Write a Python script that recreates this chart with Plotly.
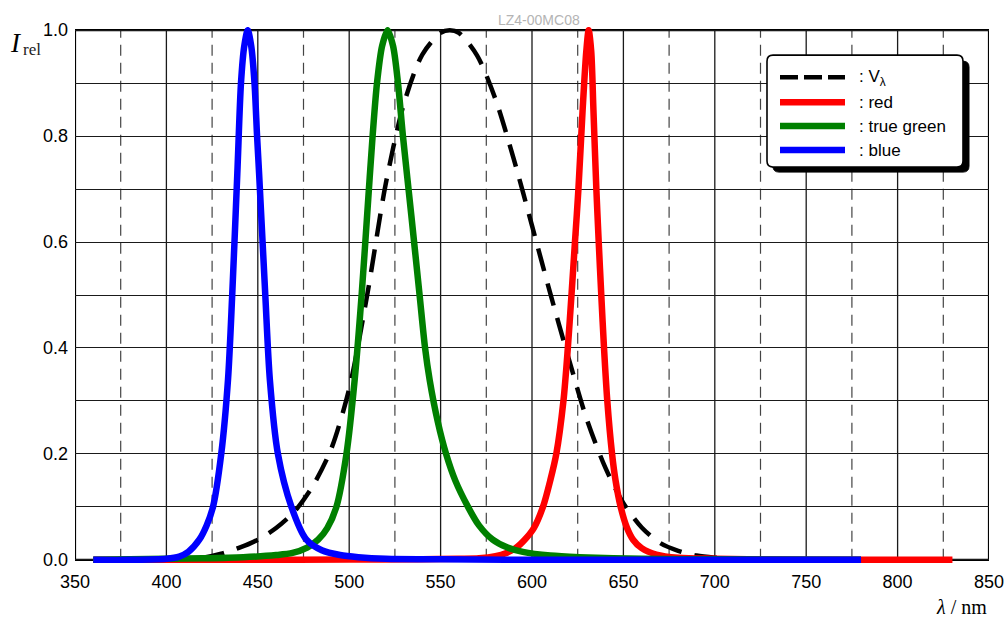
import plotly.graph_objects as go

# ---------------- data ----------------
v_x = [380, 390, 400, 410, 420, 430, 440, 450, 460, 470, 480, 490, 500, 510, 520,
       530, 540, 550, 555, 560, 570, 580, 590, 600, 610, 620, 630, 640, 650, 660,
       670, 680, 690, 700, 710, 720, 730, 740, 760, 780]
v_y = [0.0, 0.0001, 0.0004, 0.0012, 0.004, 0.0116, 0.023, 0.038, 0.06, 0.091, 0.139,
       0.208, 0.323, 0.503, 0.71, 0.862, 0.954, 0.995, 1.0, 0.995, 0.952, 0.87, 0.757,
       0.631, 0.503, 0.381, 0.265, 0.175, 0.107, 0.061, 0.032, 0.017, 0.008, 0.004,
       0.002, 0.001, 0.0005, 0.0002, 0.0001, 0.0]

red_x = [360, 450, 500, 540, 560, 571, 580, 586, 591, 596, 601, 606, 610, 613.3,
         617.2, 619.6, 621.6, 623.5, 625.4, 627.7, 629.7, 631, 632.4, 633.6, 635.2,
         636.5, 637.9, 639.4, 641.2, 643.8, 645.7, 648.5, 652, 655.3, 660, 668, 680,
         700, 750, 830]
red_y = [0.0, 0.0, 0.0005, 0.001, 0.002, 0.003, 0.007, 0.013, 0.022, 0.038, 0.06,
         0.1, 0.15, 0.2, 0.3, 0.4, 0.5, 0.6, 0.7, 0.85, 0.96, 1.0, 0.96, 0.85, 0.7,
         0.6, 0.5, 0.4, 0.3, 0.2, 0.15, 0.1, 0.06, 0.038, 0.022, 0.01, 0.004,
         0.002, 0.0, 0.0]

green_x = [360, 380, 400, 420, 442, 460, 469, 477, 483, 488, 493, 498.5, 503, 506.8,
           509.8, 512.8, 515.2, 518, 521, 524, 526.7, 529.4, 534, 538.5, 541.5, 544,
           548.5, 553, 558, 565, 571, 578.5, 586, 595, 610, 626, 660, 700, 780]
green_y = [0.0, 0.001, 0.002, 0.003, 0.005, 0.009, 0.013, 0.023, 0.038, 0.06, 0.1,
           0.2, 0.34, 0.5, 0.65, 0.8, 0.9, 0.97, 1.0, 0.97, 0.9, 0.8, 0.65, 0.5,
           0.4, 0.34, 0.26, 0.2, 0.15, 0.1, 0.065, 0.038, 0.024, 0.015, 0.008, 0.005,
           0.002, 0.001, 0.0]

blue_x = [360, 380, 400, 407, 412, 418, 422, 425.5, 430, 433.7, 436.0, 438.8, 440.8,
          442.6, 444.5, 446.4, 448.2, 449.6, 450.7, 454.1, 456.6, 461, 468.4, 476.6,
          485, 495, 505, 520, 550, 600, 780]
blue_y = [0.0, 0.0, 0.002, 0.006, 0.015, 0.038, 0.065, 0.1, 0.2, 0.34, 0.5, 0.73,
          0.9, 0.97, 1.0, 0.97, 0.9, 0.8, 0.73, 0.5, 0.34, 0.2, 0.1, 0.038, 0.018,
          0.009, 0.005, 0.002, 0.001, 0.0, 0.0]

series_names = [": V<sub>λ</sub>", ": red", ": true green", ": blue"]
series_colors = ["black", "#ff0000", "#008000", "#0000ff"]

x_tick_vals = list(range(350, 851, 50))
x_minor_vals = list(range(375, 826, 50))
y_tick_vals = [0.0, 0.2, 0.4, 0.6, 0.8, 1.0]
y_minor_vals = [0.1, 0.3, 0.5, 0.7, 0.9]

title_text = "LZ4-00MC08"

# ---------------- layout geometry (reference screen pixels) ----------------
W, H = 1008, 621
L, R = 75, 19
PW = W - L - R
Y0PX, Y1PX = 560.0, 30.0            # pixel rows of y=0 and y=1
PPU = Y0PX - Y1PX
PAD = 0.006                         # small padding so lines at 0 / 1 are not clipped
T = Y1PX - PAD * PPU
B = H - (Y0PX + PAD * PPU)
PH = H - T - B
BOTTOM_PX = H - B


def px_x(p):
    return (p - L) / PW


def px_y(p):
    return (BOTTOM_PX - p) / PH


fig = go.Figure()

traces = [(v_x, v_y), (red_x, red_y), (green_x, green_y), (blue_x, blue_y)]
for i, (xs, ys) in enumerate(traces):
    if i == 0:
        line = dict(color=series_colors[i], width=4.5, dash="23px,13px",
                    shape="spline", smoothing=0.8)
    else:
        line = dict(color=series_colors[i], width=6.5, shape="spline", smoothing=0.8)
    fig.add_trace(go.Scatter(x=xs, y=ys, mode="lines", line=line,
                             name=series_names[i], showlegend=False,
                             hoverinfo="skip"))

shapes = []
for xv in x_tick_vals[1:-1]:
    shapes.append(dict(type="line", xref="x", yref="y", x0=xv, x1=xv, y0=0, y1=1,
                       line=dict(color="#1a1a1a", width=1.3), layer="below"))
for xv in x_minor_vals:
    shapes.append(dict(type="line", xref="x", yref="y", x0=xv, x1=xv, y0=0, y1=1,
                       line=dict(color="#444444", width=1.2, dash="11px,7px"),
                       layer="below"))
shapes.append(dict(type="rect", xref="x", yref="y", x0=x_tick_vals[0],
                   x1=x_tick_vals[-1], y0=0, y1=1,
                   line=dict(color="black", width=2.2), layer="below"))


def rrect_path(x0, y0, x1, y1, r):
    def P(a, b):
        return f"{px_x(a):.5f},{px_y(b):.5f}"
    return (f"M{P(x0 + r, y0)} L{P(x1 - r, y0)} Q{P(x1, y0)} {P(x1, y0 + r)} "
            f"L{P(x1, y1 - r)} Q{P(x1, y1)} {P(x1 - r, y1)} L{P(x0 + r, y1)} "
            f"Q{P(x0, y1)} {P(x0, y1 - r)} L{P(x0, y0 + r)} Q{P(x0, y0)} {P(x0 + r, y0)} Z")


shapes.append(dict(type="path", xref="paper", yref="paper",
                   path=rrect_path(773, 61, 969, 172, 6),
                   fillcolor="black", line=dict(color="black", width=1), layer="above"))
shapes.append(dict(type="path", xref="paper", yref="paper",
                   path=rrect_path(767, 55, 963, 167, 6),
                   fillcolor="white", line=dict(color="black", width=1.6), layer="above"))

rows = [77, 102, 126, 150]
annotations = []
for i, ry in enumerate(rows):
    if i == 0:
        ln = dict(color=series_colors[i], width=4.5, dash="18px,6px")
    else:
        ln = dict(color=series_colors[i], width=6.5)
    shapes.append(dict(type="line", xref="paper", yref="paper",
                       x0=px_x(780), x1=px_x(845), y0=px_y(ry), y1=px_y(ry),
                       line=ln, layer="above"))
    annotations.append(dict(xref="paper", yref="paper", x=px_x(857), y=px_y(ry + 0.5),
                            xanchor="left", yanchor="middle", showarrow=False,
                            text=series_names[i],
                            font=dict(family="Liberation Sans, Arial", size=17,
                                      color="black")))

annotations.append(dict(xref="paper", yref="paper", x=px_x(16), y=px_y(42.5),
                        xanchor="center", yanchor="middle", showarrow=False,
                        text="<i>I</i>",
                        font=dict(family="Liberation Serif, Times New Roman", size=27,
                                  color="black")))
annotations.append(dict(xref="paper", yref="paper", x=px_x(21), y=px_y(49.5),
                        xanchor="left", yanchor="middle", showarrow=False,
                        text="rel",
                        font=dict(family="Liberation Serif, Times New Roman", size=17,
                                  color="#222222")))
annotations.append(dict(xref="paper", yref="paper", x=px_x(989), y=px_y(607),
                        xanchor="right", yanchor="middle", showarrow=False,
                        text="<i>λ</i> / nm",
                        font=dict(family="Liberation Serif, Times New Roman", size=20,
                                  color="black")))
annotations.append(dict(xref="paper", yref="paper", x=px_x(539), y=px_y(20),
                        xanchor="center", yanchor="middle", showarrow=False,
                        text=title_text,
                        font=dict(family="Liberation Sans, Arial", size=14,
                                  color="#b4b4b4")))

fig.update_layout(
    width=W, height=H,
    margin=dict(l=L, r=R, t=T, b=B, pad=0, autoexpand=False),
    paper_bgcolor="white", plot_bgcolor="white",
    showlegend=False,
    shapes=shapes,
    annotations=annotations,
    font=dict(family="Liberation Sans, Arial", size=18, color="black"),
)
fig.update_xaxes(range=[x_tick_vals[0], x_tick_vals[-1]], tickmode="array",
                 tickvals=x_tick_vals, showgrid=False, zeroline=False,
                 showline=False, ticks="", ticklabelstandoff=6, automargin=False,
                 tickfont=dict(size=18))
fig.update_yaxes(range=[-PAD, 1 + PAD], tickmode="array", tickvals=y_tick_vals,
                 ticktext=[f"{v:.1f}" for v in y_tick_vals],
                 showgrid=True, gridcolor="#1a1a1a", gridwidth=1.3,
                 minor=dict(tickmode="array", tickvals=y_minor_vals, showgrid=True,
                            gridcolor="#1a1a1a", gridwidth=1.3, ticks=""),
                 zeroline=False, showline=False, ticks="", ticklabelstandoff=6,
                 automargin=False, tickfont=dict(size=18))

fig.write_html(
    "out.html",
    config={"displayModeBar": False},
    post_script="document.body.style.margin='0';document.body.style.overflow='hidden';",
)
